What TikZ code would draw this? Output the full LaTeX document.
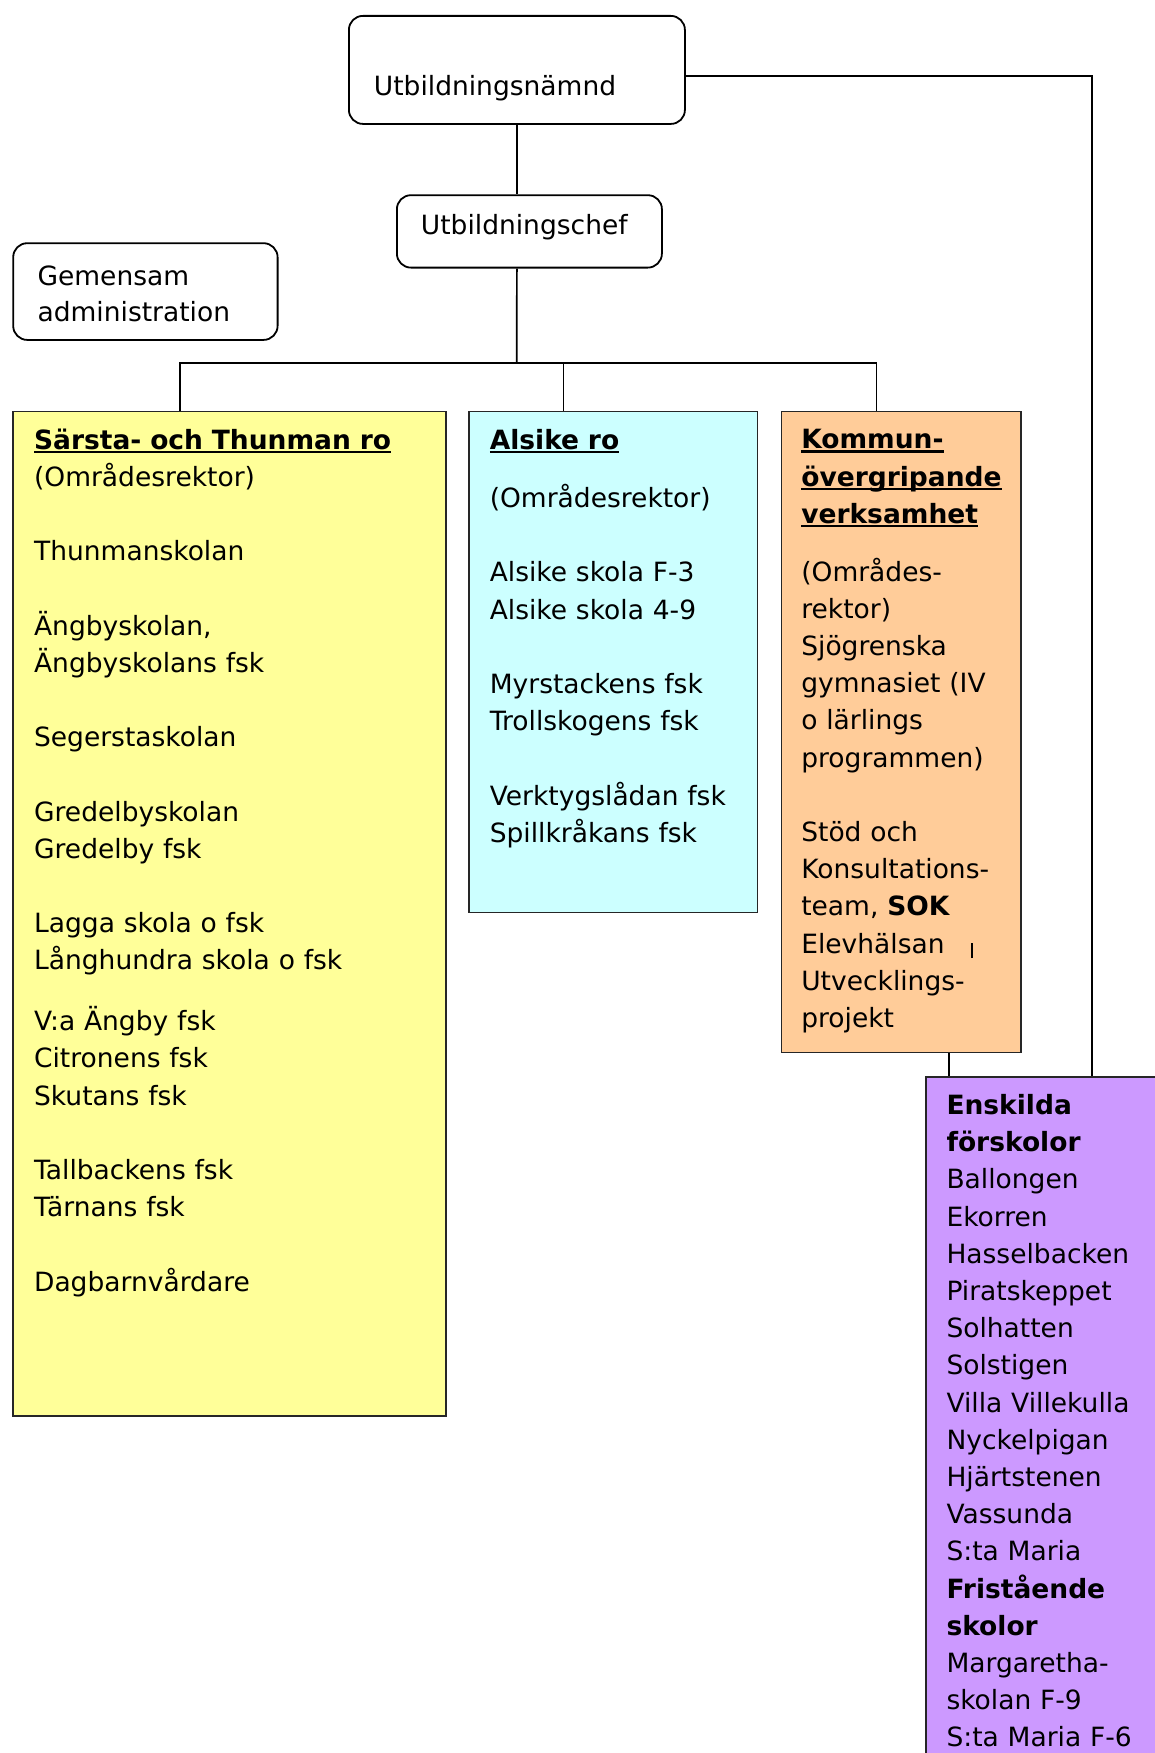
\documentclass[tikz,border=0pt]{standalone}
\usepackage{fontspec}
\setmainfont{DejaVu Sans}
\usetikzlibrary{calc}
\hyphenpenalty=10000
\definecolor{ryellow}{HTML}{FFFF99}
\definecolor{rcyan}{HTML}{CCFFFF}
\definecolor{rorange}{HTML}{FFCC99}
\definecolor{rpurple}{HTML}{CC99FF}
\newcommand{\ulhead}[1]{\leavevmode\setbox0\hbox{\bfseries #1}\rlap{\rule[-4pt]{\wd0}{2.6pt}}\box0}
\newcommand{\gap}{\\[37.2pt]}

\tikzset{
  orgbox/.style={draw, line width=1.8pt, rounded corners=14pt, anchor=north west,
    inner ysep=0pt, align=left, font=\fontsize{26.5}{37.2}\selectfont},
  areabox/.style={draw=black!85, line width=1.6pt, anchor=north west, inner ysep=0pt,
    text height=37.6pt, align=left, font=\fontsize{26.5}{37.2}\selectfont},
  link/.style={line width=1.7pt}
}

\begin{document}
\begin{tikzpicture}[x=1pt,y=-1pt]
\useasboundingbox (0,0) rectangle (1154,1753);

\node[orgbox, inner xsep=25pt, text width=286pt, text height=79.3pt, text depth=28.7pt] (namnd) at (348,15) {Utbildningsnämnd};
\node[orgbox, inner xsep=24pt, text width=217pt, text height=39pt, text depth=33.4pt] (chef) at (396,194.3) {Utbildningschef};
\node[orgbox, inner xsep=24.4pt, text width=215.6pt, text height=42pt, text depth=54.7pt,
  font=\fontsize{26.5}{36.4}\selectfont] (gemensam) at (12.3,242.3) {Gemensam\\administration};

\node[areabox, fill=ryellow, inner xsep=21.3pt, text width=390.4pt, text depth=966.7pt] (sarsta) at (12,410.7) {%
  \ulhead{Särsta- och Thunman ro}\\
  (Områdesrektor)\gap
  Thunmanskolan\gap
  Ängbyskolan,\\
  Ängbyskolans fsk\gap
  Segerstaskolan\gap
  Gredelbyskolan\\
  Gredelby fsk\gap
  Lagga skola o fsk\\
  Långhundra skola o fsk\\[23.5pt]
  V:a Ängby fsk\\
  Citronens fsk\\
  Skutans fsk\gap
  Tallbackens fsk\\
  Tärnans fsk\gap
  Dagbarnvårdare};

\node[areabox, fill=rcyan, inner xsep=21pt, text width=246.7pt, text depth=463.3pt] (alsike) at (468,410.8) {%
  \ulhead{Alsike ro}\\[21pt]
  (Områdesrektor)\gap
  Alsike skola F-3\\
  Alsike skola 4-9\gap
  Myrstackens fsk\\
  Trollskogens fsk\gap
  Verktygslådan fsk\\
  Spillkråkans fsk};

\node[areabox, fill=rorange, inner xsep=20pt, text width=199.5pt, text depth=603.6pt] (kommun) at (780.5,410.5) {%
  \ulhead{Kommun-}\\
  \ulhead{övergripande}\\
  \ulhead{verksamhet}\\[20.6pt]
  (Områdes-\\
  rektor)\\
  Sjögrenska\\
  gymnasiet (IV\\
  o lärlings\\
  programmen)\gap
  Stöd och\\
  Konsultations-\\
  team, \textbf{SOK}\\
  Elevhälsan\hspace{26pt}\rule[-5pt]{2pt}{15pt}\\
  Utvecklings-\\
  projekt};

\node[areabox, fill=rpurple, inner xsep=20.7pt, text width=238.6pt, text depth=700pt] (enskilda) at (925,1076) {%
  \textbf{Enskilda}\\
  \textbf{förskolor}\\
  Ballongen\\
  Ekorren\\
  Hasselbacken\\
  Piratskeppet\\
  Solhatten\\
  Solstigen\\
  Villa Villekulla\\
  Nyckelpigan\\
  Hjärtstenen\\
  Vassunda\\
  S:ta Maria\\
  \textbf{Fristående}\\
  \textbf{skolor}\\
  Margaretha-\\
  skolan F-9\\
  S:ta Maria F-6};

% connectors
\coordinate (bar) at (516.7,362.7);
\coordinate (dropa) at ([xshift=95.6pt]alsike.north west);
\coordinate (rlink) at ([yshift=-6pt]namnd.east);
\coordinate (kdrop) at ([xshift=168.8pt]kommun.south west);
\draw[link] (namnd.south) -- (namnd.south |- chef.north);
\draw[link] (namnd.south |- chef.south) -- (bar);
\draw[link] ([xshift=168pt]sarsta.north west) |- (bar) -| ([xshift=96pt]kommun.north west);
\draw[link] (dropa) -- (dropa |- bar);
\draw[link] (rlink) -| ([xshift=167.3pt]enskilda.north west);
\draw[link] (kdrop) -- (kdrop |- enskilda.north);
\end{tikzpicture}
\end{document}
